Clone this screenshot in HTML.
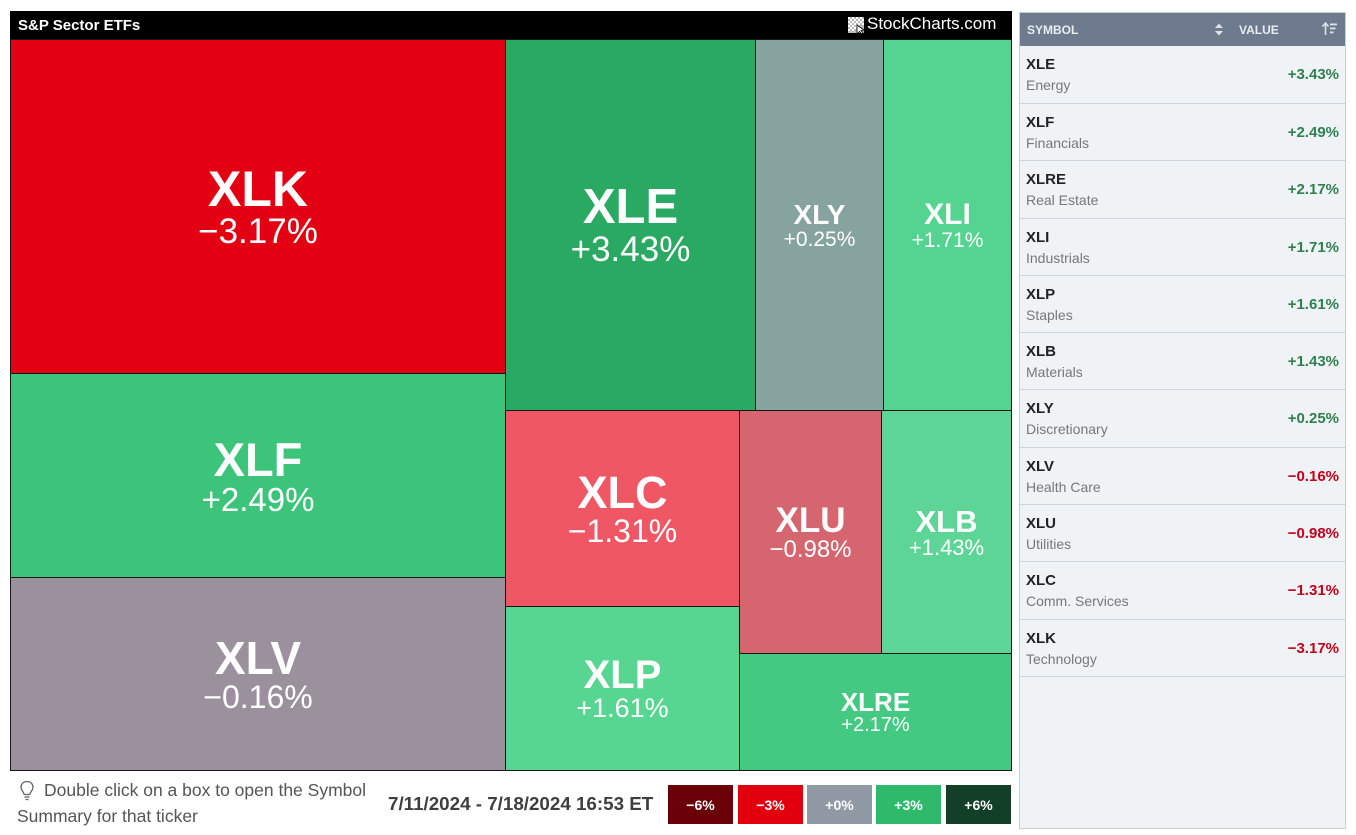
<!DOCTYPE html>
<html>
<head>
<meta charset="utf-8">
<style>
  html,body{margin:0;padding:0;background:#fff;}
  body{width:1356px;height:835px;position:relative;overflow:hidden;font-family:"Liberation Sans",sans-serif;}
  .abs{position:absolute;}
  .hdr{left:10px;top:11px;width:1002px;height:29px;background:#000;}
  .tm{left:10px;top:39px;width:1002px;height:732px;background:#161616;}
  .b{position:absolute;display:flex;flex-direction:column;align-items:center;justify-content:center;color:#fff;}
  .b .t{font-weight:bold;line-height:1;white-space:nowrap;}
  .b .p{line-height:1;white-space:nowrap;}
  .panel{left:1019px;top:12px;width:325px;height:815px;background:#eff3f6;border:1px solid #c8d1da;}
  .ph{left:1020px;top:13px;width:325px;height:33px;background:#6e7b8e;}
  .row{position:absolute;left:1020px;width:325px;height:57px;border-bottom:1px solid #cbd4dc;box-sizing:border-box;}
  .row .s{position:absolute;left:6px;top:11px;font-size:15px;line-height:15px;font-weight:bold;color:#222;}
  .row .d{position:absolute;left:6px;top:32px;font-size:14px;line-height:14px;color:#777;}
  .row .v{position:absolute;right:6px;top:21px;font-size:15px;line-height:15px;font-weight:bold;}
  .g{color:#2f8050;}
  .r{color:#c40018;}
  .lg{position:absolute;top:785px;height:39px;color:#fff;font-weight:bold;font-size:14px;display:flex;align-items:center;justify-content:center;}
</style>
</head>
<body>
<div class="abs hdr"></div>
<div class="abs" style="left:18px;top:18px;font-size:15px;line-height:15px;font-weight:bold;color:#fff;">S&amp;P Sector ETFs</div>
<svg class="abs" style="left:848px;top:17px" width="18" height="17" viewBox="0 0 18 17">
  <rect x="0" y="0" width="16" height="16" fill="#bbb"/>
  <g fill="#fff">
    <rect x="0" y="0" width="2" height="2"/><rect x="4" y="0" width="2" height="2"/><rect x="8" y="0" width="2" height="2"/><rect x="12" y="0" width="2" height="2"/>
    <rect x="2" y="2" width="2" height="2"/><rect x="6" y="2" width="2" height="2"/><rect x="10" y="2" width="2" height="2"/><rect x="14" y="2" width="2" height="2"/>
    <rect x="0" y="4" width="2" height="2"/><rect x="4" y="4" width="2" height="2"/><rect x="8" y="4" width="2" height="2"/><rect x="12" y="4" width="2" height="2"/>
    <rect x="2" y="6" width="2" height="2"/><rect x="6" y="6" width="2" height="2"/><rect x="10" y="6" width="2" height="2"/><rect x="14" y="6" width="2" height="2"/>
    <rect x="0" y="8" width="2" height="2"/><rect x="4" y="8" width="2" height="2"/><rect x="8" y="8" width="2" height="2"/>
    <rect x="2" y="10" width="2" height="2"/><rect x="6" y="10" width="2" height="2"/>
    <rect x="0" y="12" width="2" height="2"/><rect x="4" y="12" width="2" height="2"/>
  </g>
  <path d="M9 8 L9 17 L11.5 14.5 L13.5 17 L15 16 L13 13.5 L16 13 Z" fill="#fff" stroke="#000" stroke-width="0.8"/>
</svg>
<div class="abs" style="left:867px;top:15px;font-size:17px;line-height:17px;color:#fff;">StockCharts.com</div>

<div class="abs tm"></div>
<div class="b" style="left:11px;top:40px;width:494px;height:333px;background:#e20012"><div class="t" style="font-size:50px">XLK</div><div class="p" style="font-size:35px">−3.17%</div></div>
<div class="b" style="left:11px;top:374px;width:494px;height:203px;background:#3cc47b"><div class="t" style="font-size:47px">XLF</div><div class="p" style="font-size:33px">+2.49%</div></div>
<div class="b" style="left:11px;top:578px;width:494px;height:192px;background:#9a919d"><div class="t" style="font-size:46px">XLV</div><div class="p" style="font-size:32px">−0.16%</div></div>
<div class="b" style="left:506px;top:40px;width:249px;height:370px;background:#2aa962"><div class="t" style="font-size:49px">XLE</div><div class="p" style="font-size:35px">+3.43%</div></div>
<div class="b" style="left:756px;top:40px;width:127px;height:370px;background:#86a39f"><div class="t" style="font-size:28px">XLY</div><div class="p" style="font-size:21px">+0.25%</div></div>
<div class="b" style="left:884px;top:40px;width:127px;height:370px;background:#54d490"><div class="t" style="font-size:30px">XLI</div><div class="p" style="font-size:21px">+1.71%</div></div>
<div class="b" style="left:506px;top:411px;width:233px;height:195px;background:#f05765"><div class="t" style="font-size:45px">XLC</div><div class="p" style="font-size:32px">−1.31%</div></div>
<div class="b" style="left:506px;top:607px;width:233px;height:163px;background:#56d690"><div class="t" style="font-size:40px">XLP</div><div class="p" style="font-size:27px">+1.61%</div></div>
<div class="b" style="left:740px;top:411px;width:141px;height:242px;background:#d56670"><div class="t" style="font-size:35px">XLU</div><div class="p" style="font-size:24px">−0.98%</div></div>
<div class="b" style="left:882px;top:411px;width:129px;height:242px;background:#5dd597"><div class="t" style="font-size:31px">XLB</div><div class="p" style="font-size:22px">+1.43%</div></div>
<div class="b" style="left:740px;top:654px;width:271px;height:116px;background:#44c983"><div class="t" style="font-size:26px">XLRE</div><div class="p" style="font-size:20px">+2.17%</div></div>

<!-- footer -->
<svg class="abs" style="left:19px;top:780px" width="16" height="22" viewBox="0 0 16 22">
  <path d="M8 1.5 C4.2 1.5 2 4.2 2 7.2 C2 10 4.5 11.5 5.2 14.5 L10.8 14.5 C11.5 11.5 14 10 14 7.2 C14 4.2 11.8 1.5 8 1.5 Z" fill="none" stroke="#666" stroke-width="1.3"/>
  <line x1="5.5" y1="17" x2="10.5" y2="17" stroke="#666" stroke-width="1.3"/>
  <line x1="6.5" y1="19.5" x2="9.5" y2="19.5" stroke="#666" stroke-width="1.3"/>
</svg>
<div class="abs" style="left:44px;top:782px;font-size:17.5px;line-height:17.5px;color:#555;white-space:nowrap;">Double click on a box to open the Symbol</div>
<div class="abs" style="left:17px;top:808px;font-size:17.5px;line-height:17.5px;color:#555;white-space:nowrap;">Summary for that ticker</div>
<div class="abs" style="left:388px;top:795px;font-size:18.8px;line-height:18.8px;font-weight:bold;color:#3e3e3e;white-space:nowrap;">7/11/2024 - 7/18/2024 16:53 ET</div>

<div class="lg" style="left:668px;width:65px;background:#6a0008">−6%</div>
<div class="lg" style="left:738px;width:65px;background:#e2000f">−3%</div>
<div class="lg" style="left:807px;width:65px;background:#9099a4">+0%</div>
<div class="lg" style="left:876px;width:65px;background:#2fba6b">+3%</div>
<div class="lg" style="left:946px;width:65px;background:#113f27">+6%</div>

<!-- right panel -->
<div class="abs panel"></div>
<div class="abs ph"></div>
<div class="abs" style="left:1027px;top:24px;font-size:12px;line-height:12px;font-weight:bold;color:#e9edf2;">SYMBOL</div>
<svg class="abs" style="left:1214px;top:23px" width="10" height="13" viewBox="0 0 10 13">
  <path d="M5 0.5 L9 5 L1 5 Z" fill="#dde3ea"/><path d="M5 12.5 L9 8 L1 8 Z" fill="#dde3ea"/>
</svg>
<div class="abs" style="left:1239px;top:24px;font-size:12px;line-height:12px;font-weight:bold;color:#e9edf2;">VALUE</div>
<svg class="abs" style="left:1322px;top:22px" width="16" height="14" viewBox="0 0 16 14">
  <path d="M3.5 13 L3.5 2" stroke="#dde3ea" stroke-width="1.6"/><path d="M0.5 4.5 L3.5 1 L6.5 4.5" fill="none" stroke="#dde3ea" stroke-width="1.6"/>
  <rect x="8" y="1.5" width="7" height="1.8" fill="#dde3ea"/><rect x="8" y="5.5" width="5.5" height="1.8" fill="#dde3ea"/><rect x="8" y="9.5" width="3.5" height="1.8" fill="#dde3ea"/>
</svg>

<div class="row" style="top:46px;height:58px"><div class="s">XLE</div><div class="d">Energy</div><div class="v g">+3.43%</div></div>
<div class="row" style="top:104px"><div class="s">XLF</div><div class="d">Financials</div><div class="v g">+2.49%</div></div>
<div class="row" style="top:161px;height:58px"><div class="s">XLRE</div><div class="d">Real Estate</div><div class="v g">+2.17%</div></div>
<div class="row" style="top:219px"><div class="s">XLI</div><div class="d">Industrials</div><div class="v g">+1.71%</div></div>
<div class="row" style="top:276px"><div class="s">XLP</div><div class="d">Staples</div><div class="v g">+1.61%</div></div>
<div class="row" style="top:333px"><div class="s">XLB</div><div class="d">Materials</div><div class="v g">+1.43%</div></div>
<div class="row" style="top:390px;height:58px"><div class="s">XLY</div><div class="d">Discretionary</div><div class="v g">+0.25%</div></div>
<div class="row" style="top:448px"><div class="s">XLV</div><div class="d">Health Care</div><div class="v r">−0.16%</div></div>
<div class="row" style="top:505px"><div class="s">XLU</div><div class="d">Utilities</div><div class="v r">−0.98%</div></div>
<div class="row" style="top:562px;height:58px"><div class="s">XLC</div><div class="d">Comm. Services</div><div class="v r">−1.31%</div></div>
<div class="row" style="top:620px"><div class="s">XLK</div><div class="d">Technology</div><div class="v r">−3.17%</div></div>
</body>
</html>
